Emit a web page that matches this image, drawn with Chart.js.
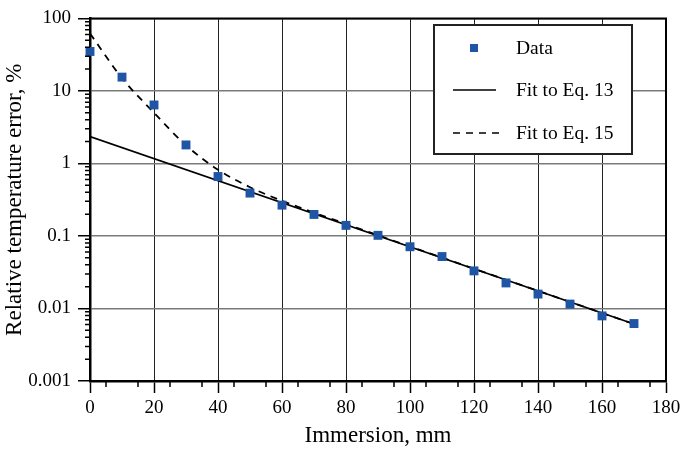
<!DOCTYPE html>
<html>
<head>
<meta charset="utf-8">
<script src="https://cdn.jsdelivr.net/npm/chart.js@4"></script>
<style>
  body { margin: 0; background: #fff; }
</style>
</head>
<body>
<canvas id="chart" width="685" height="450"></canvas>
<script>
// measured points
const immersion = [0, 10, 20, 30, 40, 50, 60, 70, 80, 90, 100, 110, 120, 130, 140, 150, 160, 170];
const relError = [35, 15.5, 6.4, 1.8, 0.66, 0.39, 0.266, 0.198, 0.14, 0.102, 0.071, 0.052, 0.033, 0.0225, 0.0158, 0.0115, 0.0079, 0.0062];

// fit curves
const eq13X = [0, 170];
const eq13Y = [2.35, 0.0061];
const eq15X = [0, 10, 20, 30, 40, 50, 60, 70, 170];
const eq15Y = [62, 15, 5.0, 1.78, 0.82, 0.47, 0.305, 0.21, 0.0061];

const xTicks = [0, 20, 40, 60, 80, 100, 120, 140, 160, 180];
const yTicks = [0.001, 0.01, 0.1, 1, 10, 100];
const yTickLabels = ["0.001", "0.01", "0.1", "1", "10", "100"];

const legendItems = ["Data", "Fit to Eq. 13", "Fit to Eq. 15"];

const serif = "'Liberation Serif', 'Times New Roman', serif";
const blue = "#1f55a5";

const toPoints = (xs, ys) => xs.map((x, i) => ({ x: x, y: ys[i] }));

// frame, minor ticks and boxed legend
const extras = {
  id: "extras",
  afterDraw(chart) {
    const ctx = chart.ctx;
    const area = chart.chartArea;
    const xs = chart.scales.x;
    const ys = chart.scales.y;
    ctx.save();
    // top and right frame
    ctx.strokeStyle = "#000";
    ctx.lineWidth = 2;
    ctx.beginPath();
    ctx.moveTo(area.left, area.top);
    ctx.lineTo(area.right, area.top);
    ctx.lineTo(area.right, area.bottom);
    ctx.stroke();

    // minor ticks
    ctx.lineWidth = 1.5;
    ctx.beginPath();
    for (let v = 5; v < 180; v += 10) {
      const px = xs.getPixelForValue(v);
      ctx.moveTo(px, area.bottom);
      ctx.lineTo(px, area.bottom + 6);
    }
    for (let d = 0.001; d < 100; d *= 10) {
      for (let m = 2; m <= 9; m++) {
        const py = ys.getPixelForValue(d * m);
        ctx.moveTo(area.left - 5, py);
        ctx.lineTo(area.left, py);
      }
    }
    ctx.stroke();

    // legend box
    const bx = 434, by = 25, bw = 198, bh = 129;
    ctx.fillStyle = "#fff";
    ctx.fillRect(bx, by, bw, bh);
    ctx.strokeStyle = "#222";
    ctx.lineWidth = 2;
    ctx.strokeRect(bx, by, bw, bh);

    const rows = [48, 90, 133];
    ctx.font = "19.5px " + serif;
    ctx.fillStyle = "#000";
    ctx.textBaseline = "middle";
    legendItems.forEach((t, i) => ctx.fillText(t, 516, rows[i] + 1));

    ctx.fillStyle = blue;
    ctx.fillRect(470, rows[0] - 4, 8, 8);

    ctx.strokeStyle = "#000";
    ctx.lineWidth = 1.5;
    ctx.beginPath();
    ctx.moveTo(453, rows[1]);
    ctx.lineTo(496, rows[1]);
    ctx.stroke();
    ctx.setLineDash([7, 6]);
    ctx.beginPath();
    ctx.moveTo(453, rows[2]);
    ctx.lineTo(500, rows[2]);
    ctx.stroke();
    ctx.restore();
  }
};

new Chart(document.getElementById("chart"), {
  type: "scatter",
  data: {
    datasets: [
      {
        label: legendItems[0],
        data: toPoints(immersion, relError),
        pointStyle: "rect",
        pointRadius: 6.3,
        pointHoverRadius: 6.3,
        backgroundColor: blue,
        borderColor: blue,
        borderWidth: 0,
        clip: false,
        order: 0
      },
      {
        label: legendItems[1],
        data: toPoints(eq13X, eq13Y),
        showLine: true,
        pointRadius: 0,
        borderColor: "#000",
        borderWidth: 1.7,
        order: 1
      },
      {
        label: legendItems[2],
        data: toPoints(eq15X, eq15Y),
        showLine: true,
        pointRadius: 0,
        borderColor: "#000",
        borderWidth: 1.8,
        borderDash: [7, 6],
        cubicInterpolationMode: "monotone",
        order: 2
      }
    ]
  },
  options: {
    responsive: false,
    animation: false,
    layout: { padding: { left: 0, right: 19, top: 16, bottom: 0 } },
    plugins: {
      legend: { display: false },
      tooltip: { enabled: false }
    },
    scales: {
      x: {
        type: "linear",
        min: 0,
        max: 180,
        afterBuildTicks: (scale) => { scale.ticks = xTicks.map(v => ({ value: v })); },
        afterFit: (scale) => { scale.height = 69; },
        ticks: {
          color: "#000",
          padding: 4,
          maxRotation: 0,
          font: { family: serif, size: 19 }
        },
        grid: {
          color: "#222",
          lineWidth: 1,
          tickColor: "#000",
          tickLength: 12,
          tickWidth: 1.5
        },
        border: { color: "#000", width: 2.5 },
        title: {
          display: true,
          text: "Immersion, mm",
          color: "#000",
          font: { family: serif, size: 23 },
          padding: { top: 0, bottom: 0 }
        }
      },
      y: {
        type: "logarithmic",
        min: 0.001,
        max: 100,
        afterBuildTicks: (scale) => { scale.ticks = yTicks.map(v => ({ value: v })); },
        afterFit: (scale) => { scale.width = 90; },
        ticks: {
          color: "#000",
          padding: 7,
          font: { family: serif, size: 19 },
          callback: (value, index) => yTickLabels[index]
        },
        grid: {
          color: "#7a7a7a",
          lineWidth: 1.5,
          tickColor: "#000",
          tickLength: 12,
          tickWidth: 1.5
        },
        border: { color: "#000", width: 2.5 },
        title: {
          display: true,
          text: "Relative temperature error, %",
          color: "#000",
          font: { family: serif, size: 23 },
          padding: { top: 1, bottom: 0 }
        }
      }
    }
  },
  plugins: [extras]
});
</script>
</body>
</html>
